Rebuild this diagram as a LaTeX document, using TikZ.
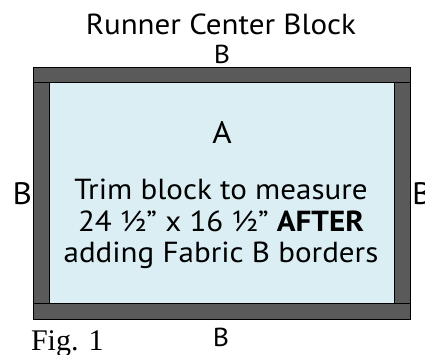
\documentclass[tikz,border=0pt]{standalone}
\usepackage{fontspec}
\setmainfont[FakeStretch=1.07]{PT Sans}
\newfontfamily\figfont{Liberation Serif}
\definecolor{borderfill}{RGB}{90,90,90}
\definecolor{centerfill}{RGB}{218,238,243}
\begin{document}
\begin{tikzpicture}[x=1pt,y=-1pt,
  lbl/.style={inner sep=0pt,outer sep=0pt,anchor=base},
  bordbox/.style={draw=black,line width=1pt,fill=borderfill},
  ctrbox/.style={draw=black,line width=1pt,fill=centerfill}]
\useasboundingbox (0,0) rectangle (425,355);
% borders
\draw[bordbox] (33,68) rectangle (410,83);
\draw[bordbox] (33,303) rectangle (410,319);
\draw[bordbox] (33,83) rectangle (49,303);
\draw[bordbox] (394,83) rectangle (410,303);
\draw[ctrbox] (49,83) rectangle (394,303);
% labels
\node[lbl,font=\fontsize{29}{31}\selectfont] (title) at (221,35) {Runner Center Block};
\node[lbl,font=\fontsize{26}{28}\selectfont] (topB) at (222,64) {B};
\node[lbl,font=\fontsize{26}{28}\selectfont] (botB) at (221,346) {B};
\node[lbl,font=\fontsize{31}{33}\selectfont,anchor=base east] (leftB) at (32,205) {B};
\node[lbl,font=\fontsize{31}{33}\selectfont,anchor=base west] (rightB) at (412,205) {B};
\node[lbl,font=\fontsize{31}{33}\selectfont] (A) at (222,144) {A};
\node[lbl,font=\fontsize{29}{31}\selectfont] (l1) at (221,200) {Trim block to measure};
\node[lbl,font=\fontsize{29}{31}\selectfont] (l2) at (221,232) {24 ½” x 16 ½” \textbf{AFTER}};
\node[lbl,font=\fontsize{29}{31}\selectfont] (l3) at (221,262) {adding Fabric B borders};
\node[lbl,font=\figfont\fontsize{30}{32}\selectfont,anchor=base west] (fig) at (31,350) {Fig. 1};
\end{tikzpicture}
\end{document}
